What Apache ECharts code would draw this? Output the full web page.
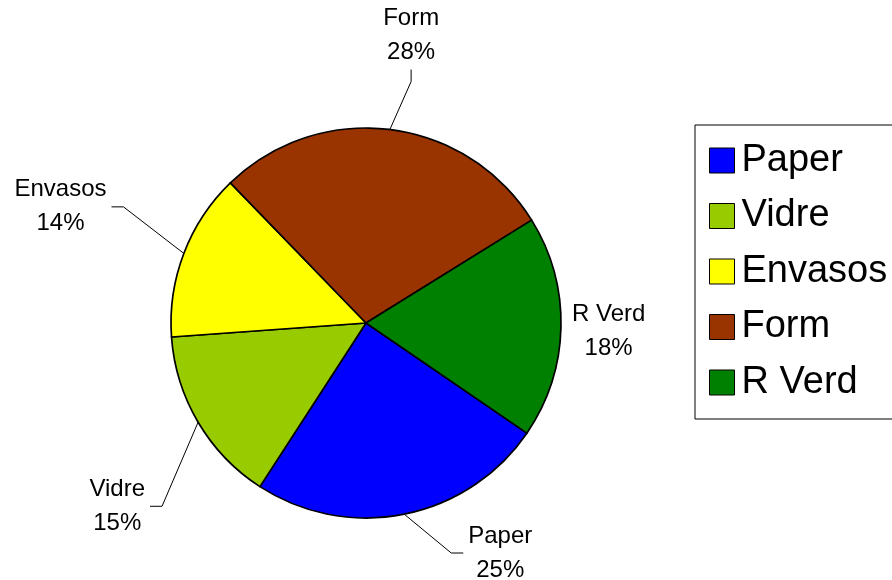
<!DOCTYPE html>
<html><head><meta charset="utf-8">
<script src="https://cdn.jsdelivr.net/npm/echarts@6/dist/echarts.min.js"></script>
<style>html,body{margin:0;padding:0;background:#fff}#c{width:892px;height:580px}</style>
</head><body><div id="c"></div>
<script>
const categories = ['Paper', 'Vidre', 'Envasos', 'Form', 'R Verd'];
const values = [24.6, 14.7, 13.9, 28.4, 18.4];
const colors = ['#0000FF', '#99CC00', '#FFFF00', '#993300', '#008000'];
// label nudges relative to the library's default outside-label centre
const labelNudge = { 'Paper': [40, 29], 'Vidre': [-22.5, 79], 'Envasos': [-46, -43], 'Form': [-30, -84], 'R Verd': [-21, 4] };
const hideLine = { 'R Verd': true };
const FONT = 'Arial, "Liberation Sans", sans-serif';

const chart = echarts.init(document.getElementById('c'), null, { renderer: 'canvas' });
const data = categories.map((n, i) => ({
  name: n, value: values[i],
  itemStyle: { color: colors[i] },
  labelLine: { show: !hideLine[n] }
}));

chart.setOption({
  animation: false,
  backgroundColor: '#fff',
  legend: {
    orient: 'vertical', left: 695, top: 125,
    padding: [16.5, 14, 17.5, 14],
    borderColor: '#000', borderWidth: 1, borderRadius: 0,
    itemWidth: 25, itemHeight: 25, itemGap: 17.5,
    icon: 'rect', selectedMode: false,
    data: categories,
    textStyle: { fontFamily: FONT, fontSize: 38, lineHeight: 37, color: '#000', padding: [0, 0, 0, 2] },
    itemStyle: { borderColor: '#000', borderWidth: 1 }
  },
  series: [{
    type: 'pie', center: [366, 323], radius: 195,
    startAngle: -34.4, clockwise: true, avoidLabelOverlap: false,
    data: data,
    itemStyle: { borderColor: '#000', borderWidth: 1.7 },
    label: {
      show: true, position: 'outside',
      formatter: function (p) { return '{c|' + p.name + '}\n{c|' + Math.round(p.percent) + '%}'; },
      padding: [0, 5], color: '#000', fontFamily: FONT, fontSize: 24, lineHeight: 34,
      rich: { c: { align: 'center', fontFamily: FONT, fontSize: 24, lineHeight: 34, color: '#000' } }
    },
    labelLine: { show: true, length: 10, length2: 12, smooth: false, lineStyle: { color: '#000', width: 1 } },
    emphasis: { disabled: true },
    labelLayout: function (p) {
      const name = categories[p.dataIndex];
      const nd = labelNudge[name] || [0, 0];
      const r = p.labelRect;
      const cx = r.x + r.width / 2 + nd[0];
      const cy = r.y + r.height / 2 + nd[1];
      const out = { x: cx, y: cy, align: 'center', verticalAlign: 'middle' };
      const pts = p.labelLinePoints;
      if (pts && pts.length) {
        const s = pts[0];
        const hw = r.width / 2, hh = r.height / 2, L = 12;
        let a;
        if (s[0] > cx + hw) a = [cx + hw, cy, 1, 0];
        else if (s[0] < cx - hw) a = [cx - hw, cy, -1, 0];
        else if (s[1] > cy) a = [cx, cy + hh, 0, 1];
        else a = [cx, cy - hh, 0, -1];
        out.labelLinePoints = [[s[0], s[1]], [a[0] + a[2] * L, a[1] + a[3] * L], [a[0], a[1]]];
      }
      return out;
    }
  }]
});
</script></body></html>
